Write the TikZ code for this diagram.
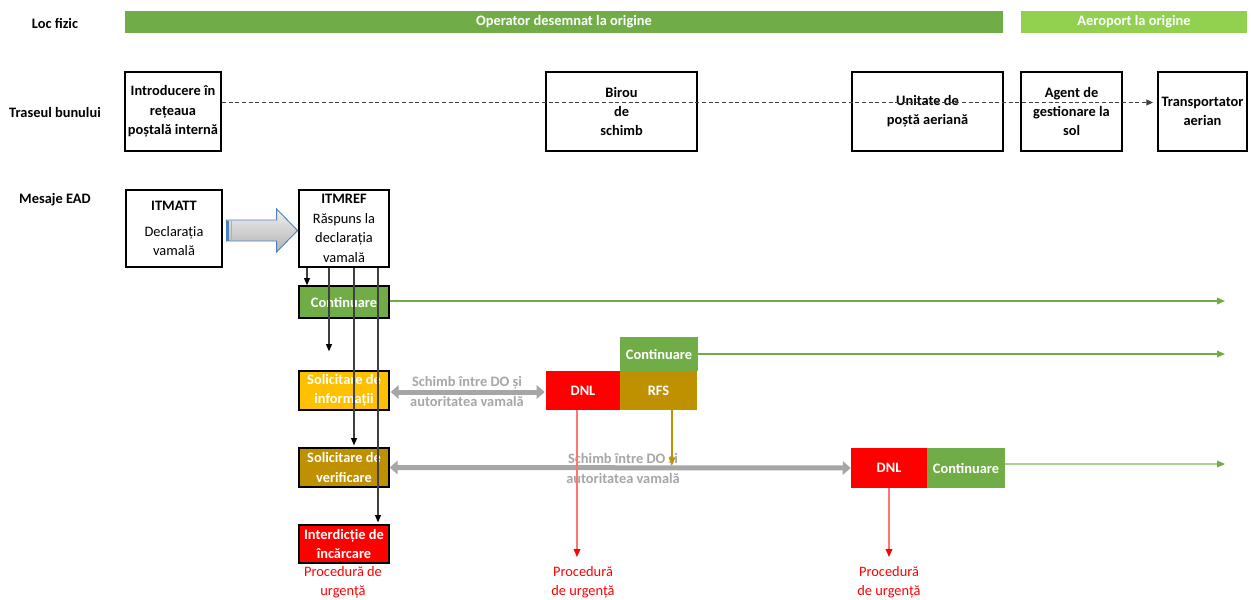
\documentclass[tikz,border=0pt]{standalone}
\usepackage{fontspec}
\setmainfont{Carlito}
\usetikzlibrary{arrows.meta,calc}
\definecolor{gA}{HTML}{70AD47}
\definecolor{gB}{HTML}{92D050}
\definecolor{gC}{HTML}{A9D08E}
\definecolor{gold}{HTML}{BF9000}
\definecolor{amber}{HTML}{FFC000}
\definecolor{rd}{HTML}{FF0000}
\definecolor{gr}{HTML}{A6A6A6}
\definecolor{bl}{HTML}{4F81BD}
\definecolor{dk}{HTML}{404040}
\begin{document}
\begin{tikzpicture}[x=0.75pt,y=-0.75pt,
  every node/.style={font=\fontsize{10.8}{14.6}\selectfont, align=center, inner sep=0pt},
  hdr/.style={font=\bfseries\fontsize{10.8}{14.6}\selectfont},
  bar/.style={fill=#1, text=white, font=\bfseries\fontsize{10.8}{14.6}\selectfont, minimum height=16.5pt},
  locbox/.style={draw=black, line width=1.5pt, fill=white, minimum height=59.25pt, font=\bfseries\fontsize{10.8}{14.6}\selectfont},
  msg/.style={draw=black, line width=0.9pt, fill=white, minimum height=57.75pt},
  stbox/.style={fill=#1, draw=black, line width=1pt, text=white, font=\bfseries\fontsize{10.8}{14.6}\selectfont, minimum width=67.5pt, minimum height=29.25pt},
  flag/.style={fill=#1, text=white, font=\bfseries\fontsize{10.8}{14.6}\selectfont, minimum height=29.25pt},
  xlbl/.style={text=gr, font=\bfseries\fontsize{10.8}{14.6}\selectfont},
  urg/.style={text=rd},
  dashline/.style={draw=dk, line width=0.8pt, dash pattern=on 3pt off 2pt, -{Triangle[length=5pt,width=4.5pt]}},
  flow/.style={draw=dk, line width=0.8pt, -{Triangle[length=5.5pt,width=4.5pt,fill=black,color=black]}},
  gline/.style={draw=#1, line width=0.9pt, -{Triangle[length=6pt,width=5pt]}, color=#1},
  rline/.style={draw=rd!55, line width=0.9pt, -{Triangle[length=6pt,width=5pt, fill=rd, color=rd]}},
  oline/.style={draw=gold, line width=0.9pt, -{Triangle[length=6pt,width=5pt]}},
  xch/.style={draw=gr, line width=3.75pt, {Triangle[length=6pt,width=10pt]}-{Triangle[length=6pt,width=10pt]}}
]
\useasboundingbox (0,0) rectangle (1251,599);

% row headers
\node[hdr] (lf) at (55,23) {Loc fizic};
\node[hdr] (tb) at (55,113) {Traseul bunului};
\node[hdr] (me) at (55,200) {Mesaje EAD};

% location bars
\node[bar=gA, minimum width=658.5pt] (op) at (564,22) {Operator desemnat la origine};
\node[bar=gB, minimum width=169.5pt] (ap) at (1134,22) {Aeroport la origine};

% route boxes
\node[locbox, minimum width=72pt] (intro) at (173,111.5) {Introducere în\\rețeaua\\poștală internă};
\node[locbox, minimum width=113.25pt] (birou) at (621.5,111.5) {Birou\\de\\schimb};
\node[locbox, minimum width=113.25pt] (unit) at (927.5,111.5) {Unitate de\\poștă aeriană};
\node[locbox, minimum width=75.75pt] (agent) at (1071.5,111.5) {Agent de\\gestionare la\\sol};
\node[locbox, minimum width=66.75pt] (trans) at (1202.5,111.5) {Transportator\\aerian};
\draw[dashline, shorten >=3pt] ($(intro.east)+(0,-9)$) -- ($(trans.west)+(0,-9)$);

% messages
\node[msg, minimum width=72pt] (itmatt) at (174,228.5) {\textbf{ITMATT}\\[5pt]Declarația\\vamală};
\node[msg, minimum width=67.5pt] (itmref) at (344,228.5) {\textbf{ITMREF}\\Răspuns la\\declarația\\vamală};
\coordinate (ba) at ($(itmatt.east)+(4,2)$);
\draw[bl, line width=0.7pt, top color=white!88!gray, bottom color=gray!60]
  (ba) ++(0,-10.5) -- ++(50,0) -- ++(0,-11) -- ++(21,21.5) -- ++(-21,21.5) -- ++(0,-11) -- ++(-50,0) -- cycle;
\draw[bl, line width=1.3pt] ($(ba)+(1.5,-10)$) -- ++(0,20);
\draw[bl!60, line width=1pt] ($(ba)+(5,-10)$) -- ++(0,20);

% outcome boxes
\node[stbox=gA, minimum height=24pt] (cont1) at (344,302) {Continuare};
\node[stbox=amber] (info) at (344,390.5) {Solicitare de\\informații};
\node[stbox=gold] (verif) at (344,467.5) {Solicitare de\\verificare};
\node[stbox=rd, minimum height=28.5pt] (inter) at (344,544) {Interdicție de\\încărcare};

\node[flag=rd, minimum width=55.5pt] (dnl1) at (583,390.5) {DNL};
\node[flag=gold, minimum width=57.75pt] (rfs) at (658.5,390.5) {RFS};
\node[flag=gA, minimum width=58.5pt, minimum height=25.5pt] (cont2) at (659,354) {Continuare};

\node[flag=rd, minimum width=57pt, minimum height=30pt] (dnl2) at (889,468) {DNL};
\node[flag=gA, minimum width=58.5pt, minimum height=30pt] (cont3) at (966,468) {Continuare};

% exchanges
\draw[xch] ($(info.east)+(1,1.5)$) -- ($(dnl1.west)+(-1,1.5)$);
\node[xlbl] (x1) at (467,391.5) {Schimb între DO și\\autoritatea vamală};
\draw[xch] (verif.east) -- (dnl2.west);
\node[xlbl] (x2) at (623,468.5) {Schimb între DO și\\autoritatea vamală};

% flows from ITMREF
\draw[flow] ($(itmref.south)+(-37,0)$) coordinate (s1) -- (s1 |- cont1.north);
\draw[flow] ($(itmref.south)+(-15,0)$) coordinate (s2) -- ($(s2 |- info.north)+(0,-19)$);
\draw[flow] ($(itmref.south)+(10,0)$) coordinate (s3) -- ($(s3 |- verif.north)+(0,-2)$);
\draw[flow] ($(itmref.south)+(34,0)$) coordinate (s4) -- ($(s4 |- inter.north)+(0,-2)$);

% continuation lines
\coordinate (rend) at (1225,0);
\draw[gline=gA] ($(cont1.east)+(0,-1)$) coordinate (c1) -- (c1 -| rend);
\draw[gline=gA] (cont2.east) -- (cont2.east -| rend);
\draw[draw=gC, line width=0.9pt, -{Triangle[length=6pt,width=5pt,fill=gA,color=gA]}] ($(cont3.east)+(0,-4)$) coordinate (c3) -- (c3 -| rend);

% RFS to verification exchange
\draw[oline] ($(rfs.south)+(13.5,0)$) coordinate (o1) -- ($(o1)+(0,55)$);

% urgent procedures
\node[urg] (p1) at (343,582.5) {Procedură de\\urgență};
\node[urg] (p2) at (583,582.5) {Procedură\\de urgență};
\node[urg] (p3) at (889,582.5) {Procedură\\de urgență};
\coordinate (pend) at (0,557);
\draw[rline] ($(dnl1.south)+(-6,0)$) coordinate (r1) -- (r1 |- pend);
\draw[rline] (dnl2.south) -- (dnl2.south |- pend);
\end{tikzpicture}
\end{document}
